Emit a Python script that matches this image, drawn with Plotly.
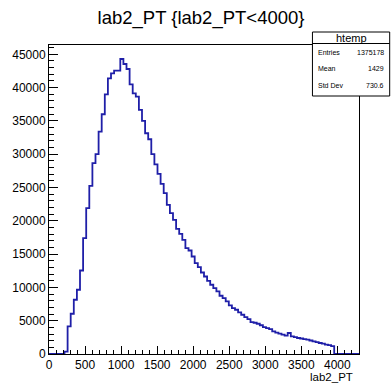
import plotly.graph_objects as go

# ---- data ----
bin_width = 43.0
n_bins = 100
counts = [
    0, 0, 0, 0, 0, 350, 4140, 6045, 8145, 9645,
    12540, 17400, 21900, 25245, 28650, 30000, 33390, 36000, 39000, 41400,
    42150, 42540, 42540, 44295, 43545, 42795, 40500, 39150, 38640, 36645,
    35000, 33150, 32250, 30000, 28470, 27045, 25545, 24150, 22395, 21150,
    20145, 18795, 18045, 17145, 15900, 15540, 14640, 13650, 13050, 12240,
    11640, 10995, 10395, 9900, 9390, 8745, 8400, 7890, 7290, 6900,
    6645, 6240, 5895, 5550, 5250, 4800, 4695, 4545, 4320, 4050,
    3900, 3750, 3390, 3195, 3045, 2895, 2745, 3150, 2640, 2520,
    2400, 2325, 2235, 2145, 2025, 1890, 1770, 1650, 1545, 1395,
    1320, 1170, 0, 0, 0, 0, 0, 0, 0, 0,
]
x_ticks = [0, 500, 1000, 1500, 2000, 2500, 3000, 3500, 4000]
y_ticks = [0, 5000, 10000, 15000, 20000, 25000, 30000, 35000, 40000, 45000]
title_text = "lab2_PT {lab2_PT<4000}"
x_title = "lab2_PT"
stats_name = "htemp"
stats_rows = [("Entries", "1375178"), ("Mean", "1429"), ("Std Dev", "730.6")]

edges = [i * bin_width for i in range(n_bins + 1)]
xs = edges
ys = counts + [counts[-1]]

FONT = "Liberation Sans, Arial, Helvetica, sans-serif"
W, H = 392, 390
L, R, T, B = 46, 33, 45, 36
PW, PH = W - L - R, H - T - B


def px2paper(px, py):
    return (px - L) / PW, (H - B - py) / PH


fig = go.Figure()
fig.add_trace(go.Scatter(
    x=xs, y=ys, mode="lines", line_shape="hv",
    line=dict(color="#1f1fa8", width=1.8), hoverinfo="skip", showlegend=False,
))

axis_common = dict(
    showgrid=False, zeroline=False, showline=True, linecolor="black",
    linewidth=1, mirror=True, ticks="inside", tickcolor="black",
    tickformat="d",
    tickfont=dict(family=FONT, size=12, color="black"),
)
fig.update_xaxes(range=[0, n_bins * bin_width], tickvals=x_ticks, ticklen=8,
                 minor=dict(dtick=100, ticks="inside", ticklen=4, tickcolor="black"),
                 **axis_common)
fig.update_yaxes(range=[0, 46400], tickvals=y_ticks, ticklen=9,
                 minor=dict(dtick=1000, ticks="inside", ticklen=5, tickcolor="black"),
                 **axis_common)

shapes = []
annotations = []
# x-axis title
annotations.append(dict(text=x_title, xref="paper", yref="paper", x=1, y=0,
                        xanchor="right", yanchor="middle", xshift=-4, yshift=-23,
                        showarrow=False, font=dict(family=FONT, size=11.5, color="black")))
# stats box
bx0, by0 = px2paper(312, 32)
bx1, by1 = px2paper(390, 96)
shapes.append(dict(type="rect", xref="paper", yref="paper", x0=bx0, y0=by1, x1=bx1, y1=by0,
                   line=dict(color="black", width=1), fillcolor="white", layer="above"))
hx0, hy = px2paper(312, 43.5)
shapes.append(dict(type="line", xref="paper", yref="paper", x0=bx0, y0=hy, x1=bx1, y1=hy,
                   line=dict(color="black", width=1), layer="above"))
cx, cy = px2paper(351, 37.5)
annotations.append(dict(text=stats_name, xref="paper", yref="paper", x=cx, y=cy,
                        xanchor="center", yanchor="middle", showarrow=False,
                        font=dict(family=FONT, size=11, color="black")))
for i, (lab, val) in enumerate(stats_rows):
    ry = 52.5 + i * 16.3
    lx, ly = px2paper(316, ry)
    vx, _ = px2paper(386, ry)
    annotations.append(dict(text=lab, xref="paper", yref="paper", x=lx, y=ly,
                            xanchor="left", yanchor="middle", showarrow=False,
                            font=dict(family=FONT, size=7, color="black")))
    annotations.append(dict(text=val, xref="paper", yref="paper", x=vx, y=ly,
                            xanchor="right", yanchor="middle", showarrow=False,
                            font=dict(family=FONT, size=7, color="black")))

fig.update_layout(
    width=W, height=H, margin=dict(l=L, r=R, t=T, b=B, pad=0),
    paper_bgcolor="white", plot_bgcolor="white",
    title=dict(text=title_text, x=201 / W, y=1 - 18 / H, xanchor="center", yanchor="middle",
               font=dict(family=FONT, size=18.5, color="black")),
    shapes=shapes, annotations=annotations, showlegend=False,
)

fig.write_html("out.html")
